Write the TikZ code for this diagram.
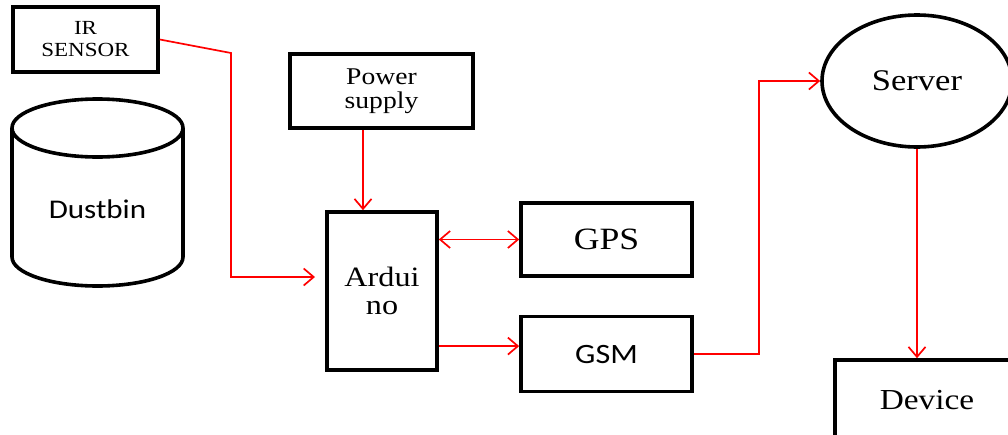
\documentclass[tikz,border=0pt]{standalone}
\usepackage{fontspec}
\setmainfont{Liberation Serif}[FakeStretch=1.15]
\newfontfamily\binfont{Carlito}[FakeStretch=1.15]
\usetikzlibrary{calc}
\usetikzlibrary{arrows.meta}
\usetikzlibrary{shapes.geometric}
\usetikzlibrary{positioning}

\begin{document}
\begin{tikzpicture}[x=1pt,y=-1pt,block/.style={rectangle, draw, line width=3.6pt, inner sep=0pt, align=center}, link/.style={draw=red, line width=1.7pt}]
    \tikzset{oval/.style={ellipse, draw, line width=3.6pt, inner sep=0pt}}
    \tikzset{>={Straight Barb[length=10pt,width=17pt]}}
    \clip (0,0) rectangle (1008,434);
    %blocks
    \node[block, minimum width=145pt, minimum height=65pt, font=\fontsize{20}{22}\selectfont] (irs) at (85.5,39.5) {IR\\SENSOR};
    \node[block, minimum width=183pt, minimum height=74pt, font=\fontsize{24}{24}\selectfont] (pwr) at (381.5,91) {Power\\supply};
    \node[block, minimum width=110pt, minimum height=158pt, font=\fontsize{28}{28}\selectfont] (ard) at (382,291) {Ardui\\no};
    \node[block, minimum width=171pt, minimum height=73pt, font=\fontsize{31}{32}\selectfont] (gps) at (606.5,239.5) {GPS};
    \node[block, minimum width=171pt, minimum height=75pt, font=\binfont\fontsize{28}{30}\selectfont, below=37pt of gps] (gsm) {GSM};
    \node[oval, minimum width=190pt, minimum height=132pt, font=\fontsize{30}{30}\selectfont] (srv) at (917,81) {Server};
    \node[block, minimum width=184pt, minimum height=80pt, font=\fontsize{29}{30}\selectfont] (dev) at (927,400) {Device};
    %dustbin
    \draw[line width=3.6pt] (12,128) -- (12,257) arc[start angle=180, end angle=0, x radius=85.5, y radius=29] -- (183,128);
    \draw[line width=3.6pt] (97.5,128) ellipse [x radius=85.5, y radius=29];
    \node[font=\binfont\fontsize{27}{28}\selectfont] (bin) at (97.5,209) {Dustbin};
    %links
    \coordinate (irbend) at (231,53);
    \coordinate (irin) at (315,277);
    \coordinate (gsmin) at ([yshift=8pt]gsm.west);
    \draw[link, ->] (irs.east) -- (irbend) |- (irin);
    \draw[link, ->] ([xshift=-18.5pt]pwr.south) -- ([xshift=-19pt]ard.north);
    \draw[link, <->] (ard.east |- gps.west) -- (gps.west);
    \draw[link, ->] (ard.east |- gsmin) -- (gsmin);
    \draw[link, ->] (gsm.east) -- ++(65,0) |- (srv.west);
    \draw[link, ->] (srv.south) -- (srv.south |- dev.north);
\end{tikzpicture}
\end{document}
